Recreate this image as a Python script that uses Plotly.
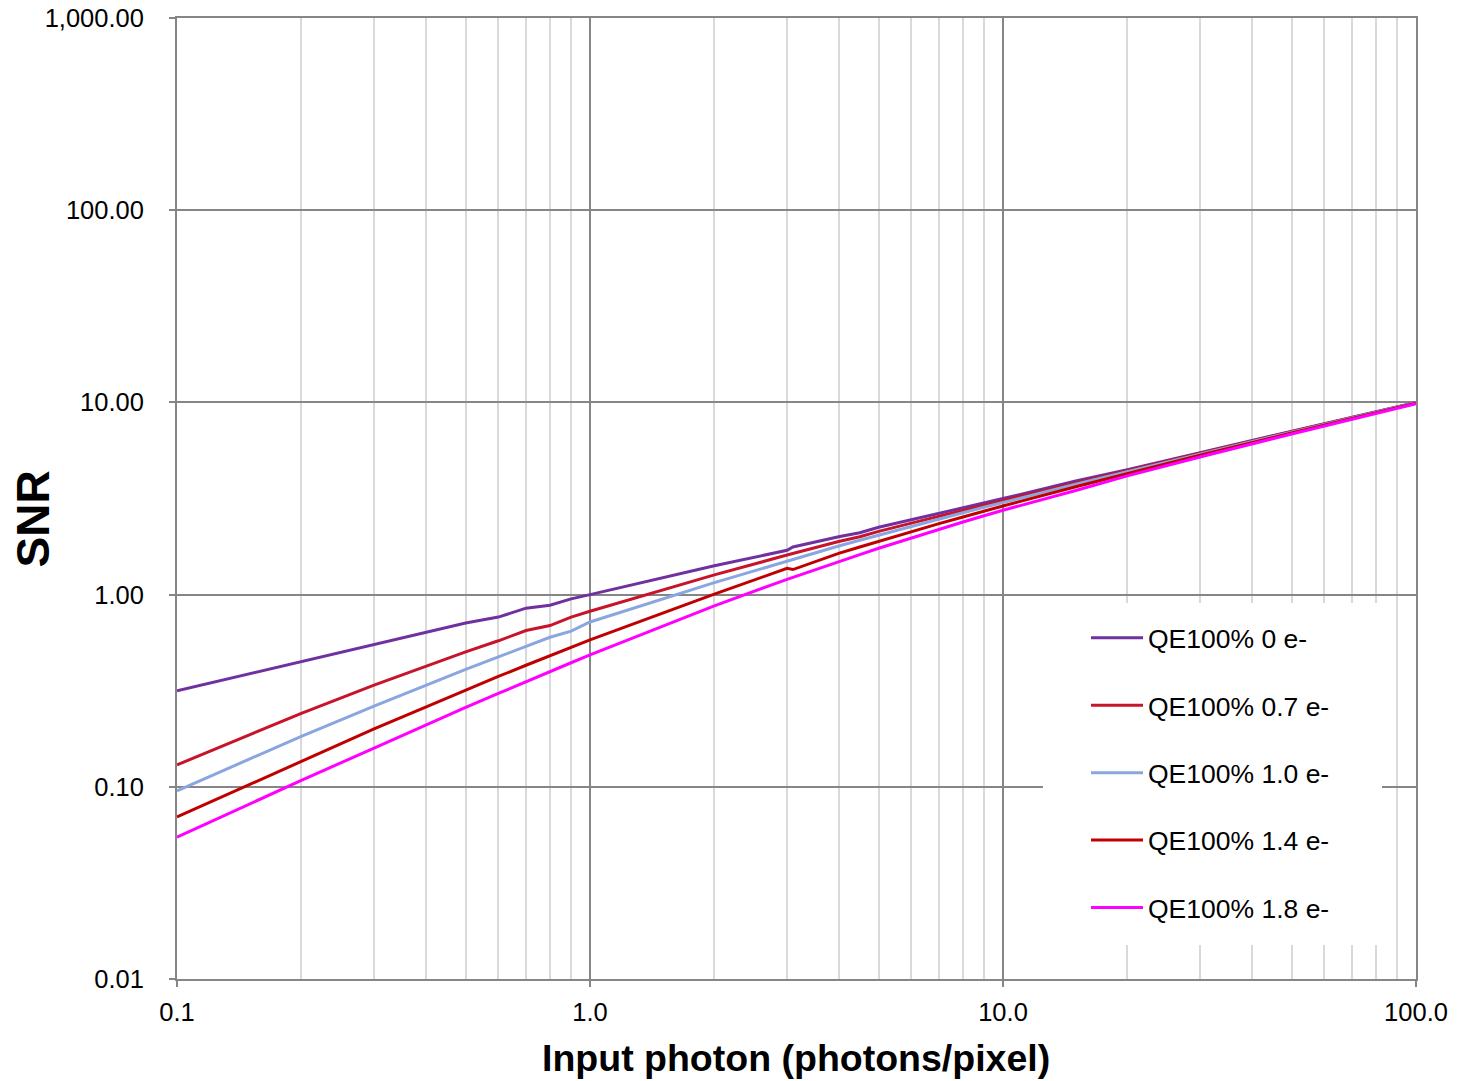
import plotly.graph_objects as go

x = [0.1, 0.2, 0.3, 0.4, 0.5, 0.6, 0.7, 0.8, 0.9, 1.0, 2.0, 3.0, 3.1, 4.0, 4.5, 5.0,
     6.0, 7.0, 8.0, 9.0, 10.0, 15.0, 20.0, 30.0, 50.0, 100.0]

snr_0 = [0.316, 0.447, 0.548, 0.632, 0.711, 0.764, 0.850, 0.880, 0.950, 1.000, 1.414, 1.700,
         1.770, 2.000, 2.100, 2.240, 2.450, 2.650, 2.830, 3.000, 3.160, 3.900, 4.470, 5.480,
         7.070, 10.000]
snr_07 = [0.130, 0.241, 0.338, 0.424, 0.503, 0.575, 0.650, 0.690, 0.763, 0.819, 1.267, 1.606,
          1.636, 1.888, 2.000, 2.134, 2.355, 2.558, 2.746, 2.921, 3.087, 3.811, 4.418, 5.434,
          7.038, 9.976]
snr_10 = [0.0953, 0.183, 0.263, 0.338, 0.408, 0.474, 0.537, 0.600, 0.645, 0.720, 1.155, 1.500,
          1.531, 1.789, 1.919, 2.041, 2.268, 2.475, 2.667, 2.846, 3.015, 3.750, 4.364, 5.388,
          7.001, 9.950]
snr_14 = [0.0697, 0.136, 0.200, 0.260, 0.319, 0.375, 0.429, 0.482, 0.532, 0.581, 1.005, 1.370,
          1.350, 1.640, 1.770, 1.895, 2.127, 2.339, 2.535, 2.718, 2.892, 3.642, 4.268, 5.306,
          6.937, 9.903]
snr_18 = [0.0547, 0.108, 0.159, 0.210, 0.259, 0.306, 0.353, 0.398, 0.442, 0.486, 0.874, 1.201,
          1.231, 1.485, 1.615, 1.742, 1.974, 2.188, 2.386, 2.572, 2.747, 3.480, 4.148, 5.203,
          6.853, 9.842]

series_names = ["QE100% 0 e-", "QE100% 0.7 e-", "QE100% 1.0 e-", "QE100% 1.4 e-", "QE100% 1.8 e-"]
series_values = [snr_0, snr_07, snr_10, snr_14, snr_18]
series_colors = ["#7030A0", "#C8142A", "#8AA6E0", "#C00000", "#FF00FF"]

x_tickvals = [0.1, 1, 10, 100]
x_ticktext = ["0.1", "1.0", "10.0", "100.0"]
y_tickvals = [0.01, 0.1, 1, 10, 100, 1000]
y_ticktext = ["0.01", "0.10", "1.00", "10.00", "100.00", "1,000.00"]

x_title = "Input photon (photons/pixel)"
y_title = "SNR"

FONT = "Liberation Sans, Arial, sans-serif"

# The page body has an 8px default margin, so the figure is shrunk and shifted by it.
OFF = 8
W, H = 1460 - OFF, 1081 - OFF
# plot-area geometry in screen pixels
L, R, T, B = 177, 1416, 18, 979
PW, PH = R - L, B - T

fig = go.Figure()
for i, (name, vals, col) in enumerate(zip(series_names, series_values, series_colors)):
    fig.add_trace(go.Scatter(x=x, y=vals, mode="lines", name=name,
                             line=dict(color=col, width=3), legendgroup=str(i)))

fig.update_layout(
    width=W, height=H,
    margin=dict(l=L - OFF, r=1460 - R, t=T - OFF, b=1081 - B),
    paper_bgcolor="white", plot_bgcolor="white",
    font=dict(family=FONT, color="black", size=25),
    showlegend=True,
    legend=dict(x=(1086 - L) / PW, y=(B - 614) / PH, xanchor="left", yanchor="top",
                bgcolor="rgba(0,0,0,0)", font=dict(size=26.5, family=FONT),
                tracegroupgap=30, itemwidth=52),
)

fig.add_shape(type="rect", xref="paper", yref="paper", layer="above",
              x0=(1043 - L) / PW, x1=(1382 - L) / PW,
              y0=(B - 945) / PH, y1=(B - 603) / PH,
              fillcolor="white", line=dict(width=0))

fig.add_annotation(text="<b>%s</b>" % x_title, xref="paper", yref="paper",
                   x=(796 - L) / PW, y=(B - 1058) / PH, xanchor="center", yanchor="middle",
                   showarrow=False, font=dict(size=37.5, family=FONT, color="black"))
fig.add_annotation(text="<b>%s</b>" % y_title, xref="paper", yref="paper",
                   x=(33 - L) / PW, y=(B - 519.5) / PH, xanchor="center", yanchor="middle",
                   textangle=-90, showarrow=False,
                   font=dict(size=46, family=FONT, color="black"))

fig.update_xaxes(
    type="log", range=[-1, 2], automargin=False,
    tickvals=x_tickvals, ticktext=x_ticktext,
    showgrid=True, gridcolor="#868686", gridwidth=1.5,
    showline=True, linecolor="#868686", linewidth=2, mirror=True,
    ticks="outside", ticklen=6, tickcolor="#868686", tickwidth=2,
    ticklabelstandoff=3, ticklabeloverflow="allow",
    tickfont=dict(size=25.5, family=FONT),
    minor=dict(showgrid=True, gridcolor="#D9D9D9", gridwidth=1.5, dtick="D1", ticks=""),
    zeroline=False,
)
fig.update_yaxes(
    type="log", range=[-2, 3], automargin=False,
    tickvals=y_tickvals, ticktext=y_ticktext,
    showgrid=True, gridcolor="#868686", gridwidth=1.5,
    showline=True, linecolor="#868686", linewidth=2, mirror=True,
    ticks="outside", ticklen=6, tickcolor="#868686", tickwidth=2,
    ticklabelstandoff=20, ticklabeloverflow="allow",
    tickfont=dict(size=25.5, family=FONT),
    zeroline=False,
)

fig.write_html("out.html")
